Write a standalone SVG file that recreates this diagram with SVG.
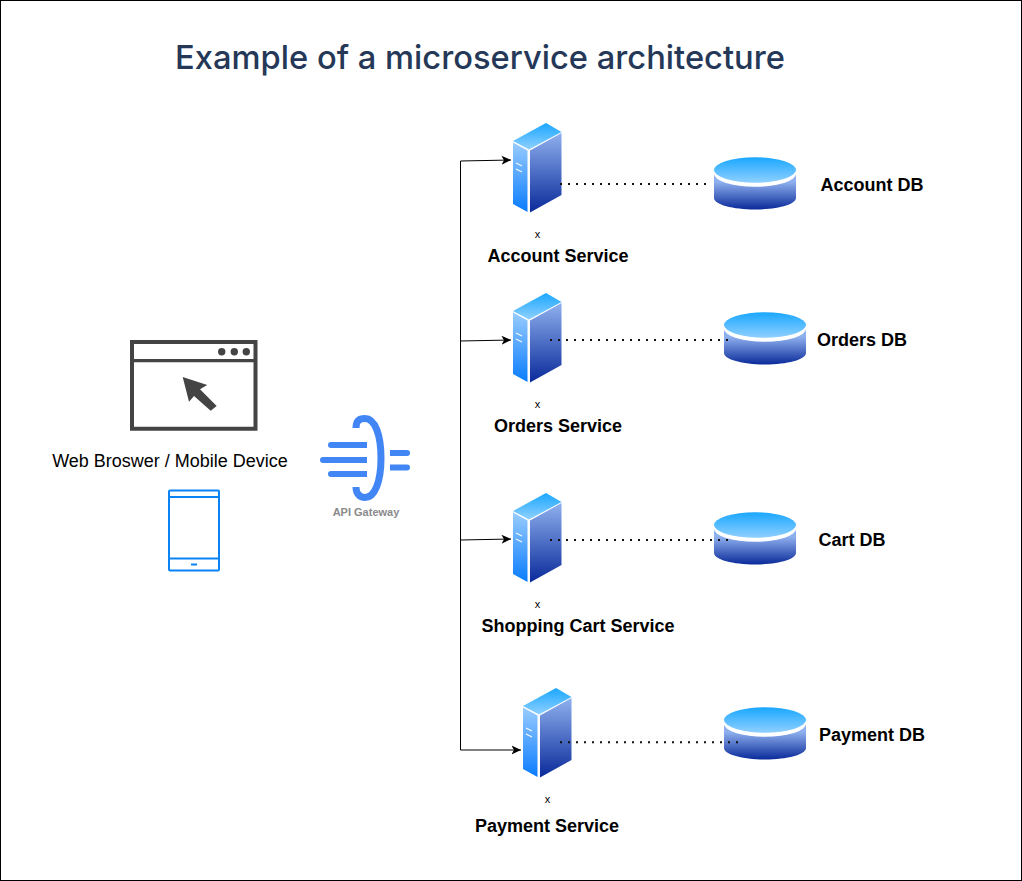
<svg xmlns="http://www.w3.org/2000/svg" width="1022" height="881" viewBox="0 0 1022 881">
<style>
text{font-family:"Liberation Sans",Arial,sans-serif;fill:#000}
.lbl{font-size:18px;font-weight:700}
.x{font-size:11px}
.c{fill:none;stroke:#000;stroke-width:1}
.d{fill:none;stroke:#111;stroke-width:2;stroke-dasharray:2 6}
.b{fill:#444}
.g{fill:none;stroke:#4285f4;stroke-width:6}
</style>
<defs>
<linearGradient id="gTop" x1="0" y1="0" x2="0" y2="1"><stop offset="0" stop-color="#1aa7ff"/><stop offset="1" stop-color="#8fd0ff"/></linearGradient>
<linearGradient id="gLeft" x1="0" y1="0" x2="0" y2="1"><stop offset="0" stop-color="#99ccff"/><stop offset="1" stop-color="#0a7cff"/></linearGradient>
<linearGradient id="gRight" x1="0" y1="0" x2="0" y2="1"><stop offset="0" stop-color="#8fb0ee"/><stop offset="1" stop-color="#0a2a9a"/></linearGradient>
<linearGradient id="gBody" x1="0" y1="0" x2="0" y2="1"><stop offset="0.300" stop-color="#8fb0ee"/><stop offset="1" stop-color="#0a2a9a"/></linearGradient>
<marker id="arr" markerWidth="11" markerHeight="10" refX="9.500" refY="5" orient="auto" markerUnits="userSpaceOnUse"><path d="M0 0.500L9.500 5L0 9.500L2.500 5Z" fill="#000"/></marker>
<symbol id="server" width="50" height="92" viewBox="0 0 50 92" overflow="visible">
<path d="M1 19L34 1L49.500 10L17 27.500Z" fill="url(#gTop)"/>
<path d="M1 20.500L15.500 28.500V90L1 82Z" fill="url(#gLeft)"/>
<path d="M18 28.500L49.500 11V73L18 90.500Z" fill="url(#gRight)"/>
<path d="M4 41L10 44M4 47L10 50" stroke="#fff" stroke-width="1.300" fill="none" opacity=".9"/>
</symbol>
<symbol id="db" width="84" height="54" viewBox="0 0 84 54" overflow="visible">
<path d="M1 14V42C1 48.500 20 53.500 42 53.500C64 53.500 83 48.500 83 42V14Z" fill="url(#gBody)"/>
<ellipse cx="42" cy="18" rx="41" ry="12.700" fill="#fff"/>
<path d="M1 14H83V18H1Z" fill="#fff"/>
<ellipse cx="42" cy="14" rx="41" ry="12.700" fill="url(#gTop)"/>
</symbol>
</defs>
<rect x="0.500" y="0.500" width="1021" height="880" fill="#fff" stroke="#000"/>
<text id="title" x="175" y="68.500" textLength="610" lengthAdjust="spacingAndGlyphs" style="font-family:Inter,'Open Sans',sans-serif;font-size:33px;font-weight:500;fill:#253858">Example of a microservice architecture</text>
<g id="browser">
<path d="M132 342H255.500V428.800H132Z" fill="#fff" stroke="#444" stroke-width="4"/>
<path d="M132 360.700H255.500" stroke="#444" stroke-width="3.300"/>
<circle class="b" cx="221.700" cy="351.700" r="3.700"/><circle class="b" cx="234.300" cy="351.700" r="3.700"/><circle class="b" cx="246.300" cy="351.700" r="3.700"/>
<path class="b" d="M182.700 377L207.300 385L200 389.300L216.700 406L210.700 410.700L194 396L189 401.700Z"/>
<text x="170" y="467" text-anchor="middle" style="font-size:18px">Web Broswer / Mobile Device</text>
</g>
<g id="mobile">
<rect x="169" y="490.500" width="50" height="80" rx="1" fill="#fff" stroke="#0a84f5" stroke-width="2"/>
<path d="M169 497H219M169 558.500H219" stroke="#0a84f5" stroke-width="2"/>
<path d="M191 564.500H197" stroke="#0a84f5" stroke-width="2"/>
</g>
<g id="gateway">
<path class="g" style="stroke-width:7" d="M356 428C356 420 360 418.500 365 418.500C375 418.500 381 435 381 458C381 481 375 497.500 365 497.500C360 497.500 356 494 356 487"/>
<path d="M331 442H367V448H331A3 3 0 0 1 331 442Z" fill="#4285f4"/>
<path d="M323 457H367V463H323A3 3 0 0 1 323 457Z" fill="#4285f4"/>
<path d="M331 471H367V477H331A3 3 0 0 1 331 471Z" fill="#4285f4"/>
<path d="M390 450H407A3 3 0 0 1 407 456H390Z" fill="#4285f4"/>
<path d="M390 464.500H407A3 3 0 0 1 407 470.500H390Z" fill="#4285f4"/>
<text x="366" y="516" text-anchor="middle" style="font-size:11px;font-weight:700;fill:#8a8a8a">API Gateway</text>
</g>
<g id="account-service"><use href="#server" x="512" y="122"/><text class="x" x="537.500" y="238" text-anchor="middle">x</text><text class="lbl" x="558" y="262" text-anchor="middle">Account Service</text></g>
<g id="orders-service"><use href="#server" x="512" y="292"/><text class="x" x="537.500" y="408" text-anchor="middle">x</text><text class="lbl" x="558" y="432" text-anchor="middle">Orders Service</text></g>
<g id="cart-service"><use href="#server" x="512" y="492"/><text class="x" x="537.500" y="608" text-anchor="middle">x</text><text class="lbl" x="578" y="632" text-anchor="middle">Shopping Cart Service</text></g>
<g id="payment-service"><use href="#server" x="522" y="687"/><text class="x" x="547.500" y="803" text-anchor="middle">x</text><text class="lbl" x="547" y="832" text-anchor="middle">Payment Service</text></g>
<g id="account-db"><use href="#db" x="713" y="156"/><text class="lbl" x="872" y="191" text-anchor="middle">Account DB</text></g>
<g id="orders-db"><use href="#db" x="723" y="311"/><text class="lbl" x="862" y="346" text-anchor="middle">Orders DB</text></g>
<g id="cart-db"><use href="#db" x="713" y="511"/><text class="lbl" x="852" y="546" text-anchor="middle">Cart DB</text></g>
<g id="payment-db"><use href="#db" x="723" y="706"/><text class="lbl" x="872" y="741" text-anchor="middle">Payment DB</text></g>
<g id="connectors">
<path class="c" d="M460.500 750V161L511 160" marker-end="url(#arr)"/>
<path class="c" d="M460.500 341L511 340" marker-end="url(#arr)"/>
<path class="c" d="M460.500 540L511 539" marker-end="url(#arr)"/>
<path class="c" d="M460.500 750L521 750" marker-end="url(#arr)"/>
<path class="d" d="M560 184H710"/>
<path class="d" d="M550 340H730"/>
<path class="d" d="M550 540H732"/>
<path class="d" d="M560 742.300H740"/>
</g>
</svg>
